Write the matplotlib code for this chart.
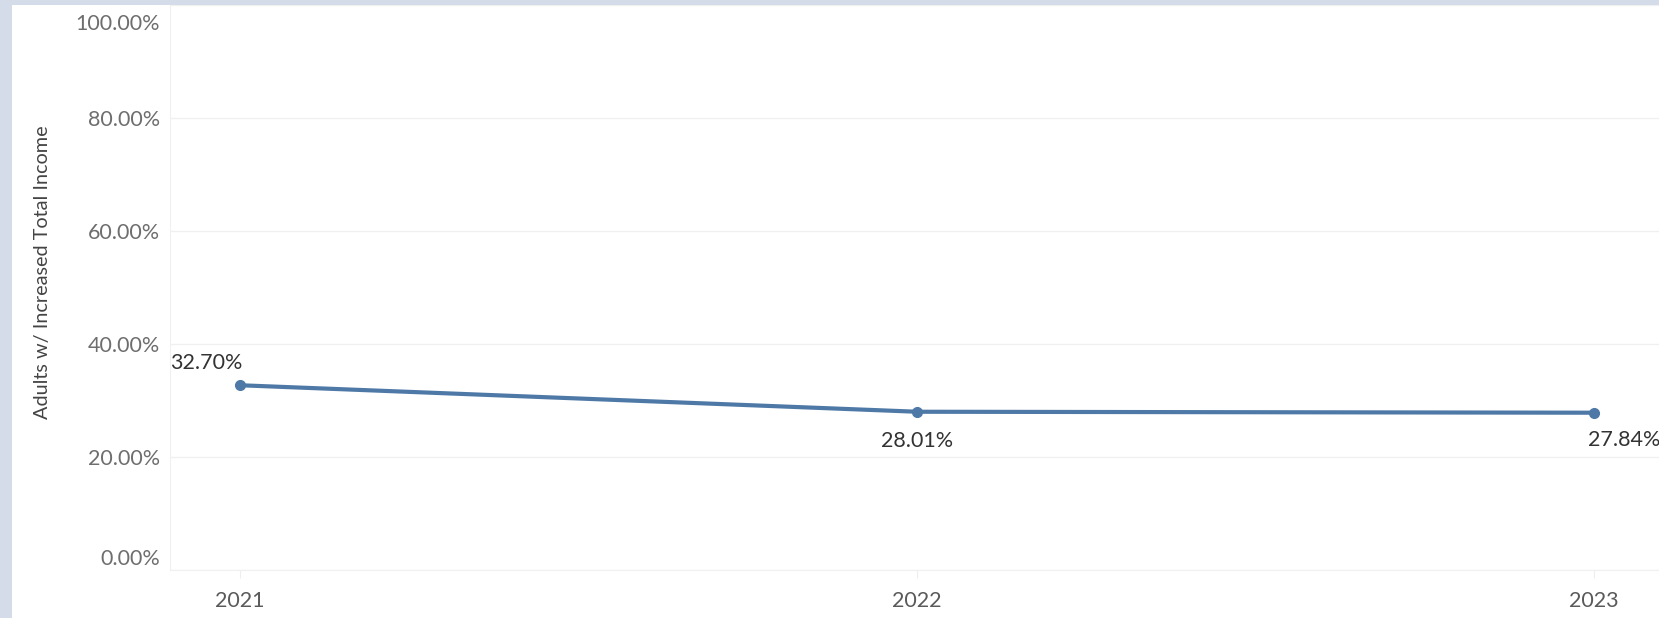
import matplotlib.pyplot as plt
import matplotlib.transforms as mtransforms
from matplotlib.patches import Rectangle

years = [2021, 2022, 2023]
share = [0.3270, 0.2801, 0.2784]
point_labels = ["32.70%", "28.01%", "27.84%"]
y_ticks = [0.0, 0.2, 0.4, 0.6, 0.8, 1.0]

plt.rcParams['font.family'] = ['Lato', 'DejaVu Sans']

W, H = 1659, 618
fig = plt.figure(figsize=(W / 100, H / 100), dpi=100)
fig.patch.set_facecolor('#d5dce9')
# white panel behind the chart
fig.patches.append(Rectangle((12 / W, 0), 1, 1 - 5 / H, transform=fig.transFigure,
                             facecolor='white', edgecolor='none', zorder=-10))

ax = fig.add_axes([170 / W, 1 - 570 / H, (W - 170) / W, (570 - 5) / H])
ax.set_zorder(1)
ax.set_facecolor('white')

ax.plot(years, share, color='#4e79a7', linewidth=3, marker='o', markersize=7,
        solid_capstyle='round', zorder=3)

# data labels
lab_kw = dict(textcoords='offset points', va='center', fontsize=15.5, color='#333333')
ax.annotate(point_labels[0], (years[0], share[0]), xytext=(2, 16), ha='right', **lab_kw)
ax.annotate(point_labels[1], (years[1], share[1]), xytext=(0, -21), ha='center', **lab_kw)
ax.annotate(point_labels[2], (years[2], share[2]), xytext=(-4, -20), ha='left',
            annotation_clip=False, **lab_kw)

ax.set_xlim(2021 - 70 / 677, 2023 + 65 / 677)
ax.set_ylim(0, 1.0)
ax.set_xticks(years)
ax.set_xticklabels([str(y) for y in years])
ax.set_yticks(y_ticks)
ax.set_yticklabels([f"{v * 100:.2f}%" for v in y_ticks])

ax.grid(axis='y', color='#f0f0f0', linewidth=1)
ax.set_axisbelow(True)
for s in ['top', 'right']:
    ax.spines[s].set_visible(False)
ax.spines['left'].set_color('#f0f0f0')
ax.spines['bottom'].set_color('#f0f0f0')

ax.tick_params(axis='y', length=0, pad=7, labelsize=15.5, labelcolor='#6e6e6e')
ax.tick_params(axis='x', length=6, color='#eeeeee', pad=9, labelsize=15.5, labelcolor='#5a5a5a')

# end labels pushed inside the axis range, as in the original
ylabs = ax.get_yticklabels()
ylabs[0].set_transform(ylabs[0].get_transform() +
                       mtransforms.ScaledTranslation(0, 13 / 100, fig.dpi_scale_trans))
ylabs[-1].set_transform(ylabs[-1].get_transform() +
                        mtransforms.ScaledTranslation(0, -17 / 100, fig.dpi_scale_trans))

fig.text(43 / W, 1 - 272 / H, "Adults w/ Increased Total Income", rotation=90,
         ha='center', va='center', fontsize=14.3, color='#444444')

fig.savefig('out.png', dpi=100)
